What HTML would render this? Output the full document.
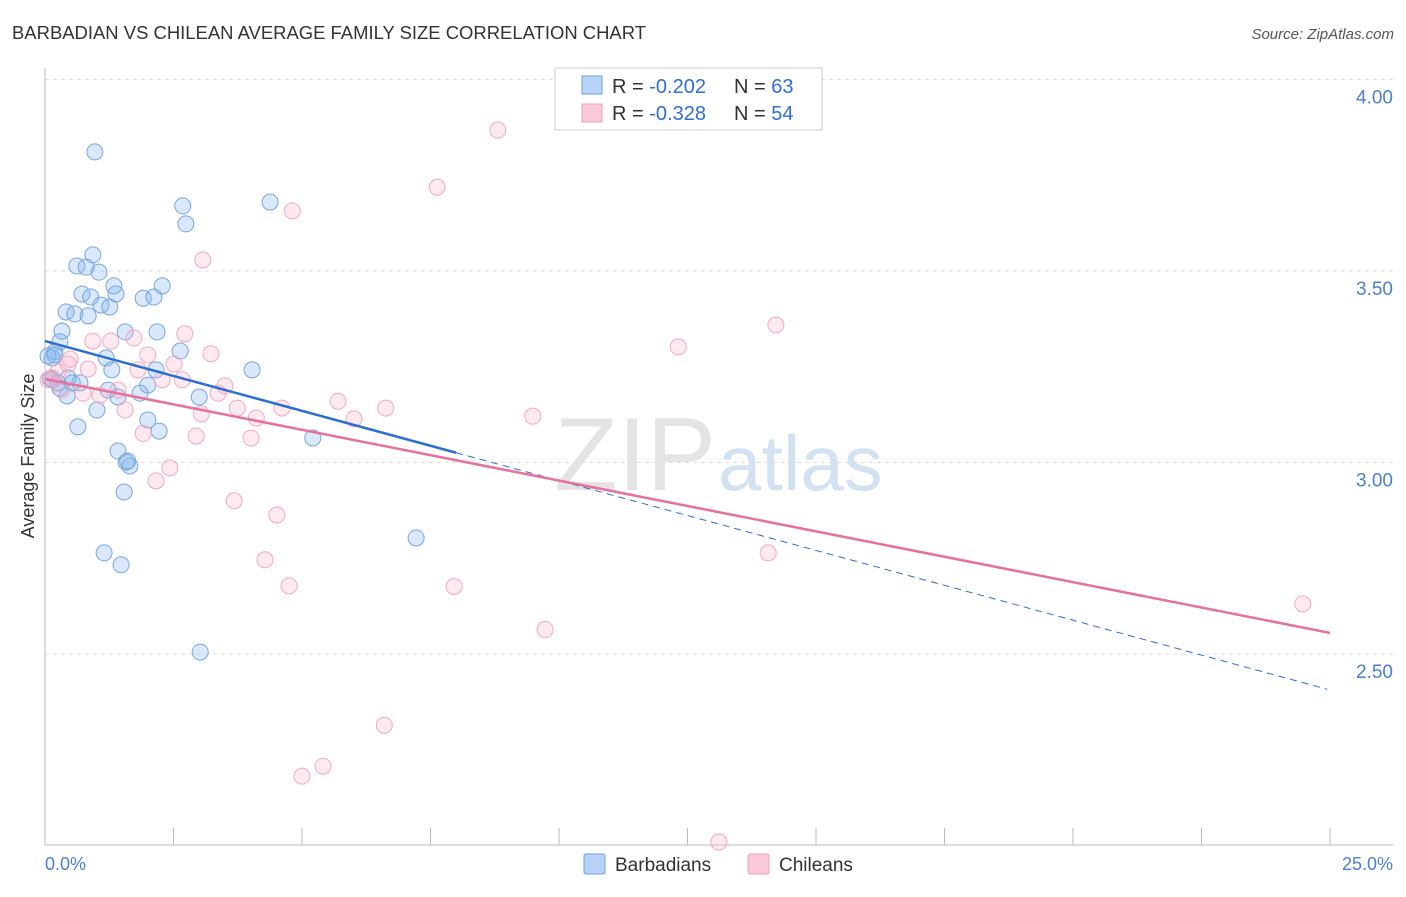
<!DOCTYPE html>
<html><head><meta charset="utf-8"><style>
body{margin:0;background:#fff;font-family:"Liberation Sans",sans-serif}
svg text{font-family:"Liberation Sans",sans-serif}
</style></head><body>
<svg id="c" width="1406" height="892">
<text x="12" y="39" font-size="18" fill="#333" textLength="634" lengthAdjust="spacingAndGlyphs">BARBADIAN VS CHILEAN AVERAGE FAMILY SIZE CORRELATION CHART</text>
<text x="1394" y="39" font-size="15" fill="#555" text-anchor="end" font-style="italic">Source: ZipAtlas.com</text>
<text x="716" y="490" font-size="104" fill="#e4e4e4" text-anchor="end" font-family="Liberation Serif">ZIP</text>
<text x="718" y="490" font-size="78" fill="#d3e2f3">atlas</text>
<g id="grid"></g><g id="axes"></g><g id="pts"></g><g id="lines"></g>
<text x="34" y="456" font-size="18" fill="#333" text-anchor="middle" transform="rotate(-90 34 456)">Average Family Size</text>
<text x="45" y="870" font-size="18" fill="#4a7fd4">0.0%</text>
<text x="1393" y="870" font-size="18" fill="#4a7fd4" text-anchor="end">25.0%</text>
<g>
<rect x="555" y="68" width="267" height="62" fill="#fff" stroke="#ccc"/>
<rect x="582" y="76" width="20" height="18" fill="#b8d3f5" stroke="#6ea0e0"/>
<rect x="582" y="104" width="20" height="18" fill="#fbc8d8" stroke="#f0a0bc"/>
<text x="612" y="93" font-size="20" fill="#333">R = <tspan fill="#2f6fd6">-0.202</tspan><tspan x="734">N = </tspan><tspan fill="#2f6fd6">63</tspan></text>
<text x="612" y="120" font-size="20" fill="#333">R = <tspan fill="#2f6fd6">-0.328</tspan><tspan x="734">N = </tspan><tspan fill="#2f6fd6">54</tspan></text>
</g>
<g>
<rect x="584" y="854" width="21" height="20" fill="#b8d3f5" stroke="#6ea0e0" rx="2"/>
<text x="615" y="871" font-size="19" fill="#333">Barbadians</text>
<rect x="748" y="854" width="21" height="20" fill="#fbc8d8" stroke="#f0a0bc" rx="2"/>
<text x="779" y="871" font-size="19" fill="#333">Chileans</text>
</g>
</svg>
<script>
const yTicks=[2.5,3.0,3.5,4.0];
const yTickLabels=["2.50","3.00","3.50","4.00"];
const blueX=[0.97,2.68,2.74,4.38,0.93,0.62,0.80,1.05,1.34,0.72,0.89,1.38,1.91,2.12,2.28,0.41,0.58,0.84,1.09,1.26,0.33,1.56,2.18,0.29,0.19,0.14,0.06,2.63,1.19,1.30,4.03,2.16,0.14,0.45,0.53,0.68,0.29,0.43,1.23,1.42,1.85,2.00,3.00,1.01,2.00,0.64,2.22,5.21,1.42,1.58,1.65,1.61,1.54,1.15,1.48,7.22,3.02,0.19,0.10,0.25];
const blueY=[3.811,3.670,3.623,3.680,3.542,3.513,3.510,3.497,3.461,3.440,3.432,3.440,3.429,3.432,3.461,3.393,3.388,3.383,3.411,3.406,3.343,3.341,3.341,3.315,3.289,3.273,3.278,3.291,3.273,3.242,3.242,3.242,3.216,3.221,3.208,3.208,3.194,3.174,3.189,3.171,3.181,3.202,3.171,3.137,3.111,3.093,3.082,3.064,3.030,3.001,2.991,3.004,2.923,2.764,2.733,2.803,2.505,3.281,3.219,3.208];
const pinkX=[8.81,7.63,4.81,3.07,14.22,12.32,2.72,1.73,0.93,1.28,2.00,3.23,0.49,0.45,0.25,0.84,1.81,2.51,2.67,2.28,3.50,3.37,1.42,0.74,1.07,1.56,3.74,3.04,4.11,4.61,5.70,6.01,6.63,9.49,1.91,2.94,4.01,2.43,2.16,3.68,4.51,4.28,4.75,7.96,9.73,14.07,6.60,5.41,5.00,13.11,24.47,0.14,0.33,0.06];
const pinkY=[3.868,3.719,3.657,3.529,3.359,3.302,3.336,3.325,3.317,3.317,3.281,3.284,3.270,3.257,3.236,3.244,3.242,3.257,3.216,3.216,3.200,3.181,3.189,3.181,3.176,3.137,3.142,3.127,3.116,3.142,3.160,3.114,3.142,3.121,3.076,3.069,3.064,2.986,2.952,2.900,2.863,2.746,2.678,2.676,2.564,2.764,2.314,2.207,2.181,2.009,2.631,3.221,3.189,3.216];
const blueTrend=[3.317,2.406];
const pinkTrend=[3.218,2.555];
const X=v=>45+v*51.4, Y=v=>79.5+(4-v)*383;
const NS="http://www.w3.org/2000/svg";
function mk(t,a,p){const e=document.createElementNS(NS,t);for(const k in a)e.setAttribute(k,a[k]);p.appendChild(e);return e;}
const grid=document.getElementById('grid'),axes=document.getElementById('axes'),pts=document.getElementById('pts'),lines=document.getElementById('lines');
yTicks.forEach((t,i)=>{
 const l=mk('line',{x1:45,x2:1393,y1:Y(t),y2:Y(t),stroke:'#ddd','stroke-dasharray':'4,4'},grid);
 
 
 const tx=mk('text',{x:1393,y:Y(t)+24,'font-size':19,fill:'#4a7fd4','text-anchor':'end'},grid);
 tx.textContent=yTickLabels[i];
 
 
});
const ya=mk('line',{x1:45,x2:45,y1:68,y2:845,stroke:'#bbb'},axes);


const xa=mk('line',{x1:45,x2:1393,y1:845,y2:845,stroke:'#bbb'},axes);


for(let i=0;i<=10;i++){const tk=mk('line',{x1:X(i*2.5),x2:X(i*2.5),y1:828,y2:845,stroke:'#bbb'},axes);
 
 }
function dots(xs,ys,fill,stroke,name){xs.forEach((x,i)=>{const c=mk('circle',{cx:X(x),cy:Y(ys[i]),r:8,fill:fill,stroke:stroke,'stroke-width':1},pts);
 
 });}
dots(blueX,blueY,'rgba(130,178,238,0.3)','#78a6e2','barbadian-point');
dots(pinkX,pinkY,'rgba(248,170,196,0.25)','#f2a8c2','chilean-point');
const bAt=x=>blueTrend[0]+(blueTrend[1]-blueTrend[0])*x/25;
const b1=mk('line',{x1:X(0),y1:Y(bAt(0)),x2:X(8),y2:Y(bAt(8)),stroke:'#2a6fd6','stroke-width':2.5},lines);


const b2=mk('line',{x1:X(8),y1:Y(bAt(8)),x2:X(24.95),y2:Y(bAt(24.95)),stroke:'#2a6fd6','stroke-width':1,'stroke-dasharray':'7,5'},lines);


const p1=mk('line',{x1:X(0),y1:Y(pinkTrend[0]),x2:X(25),y2:Y(pinkTrend[1]),stroke:'#e8709a','stroke-width':2.5},lines);


</script>
</body></html>
